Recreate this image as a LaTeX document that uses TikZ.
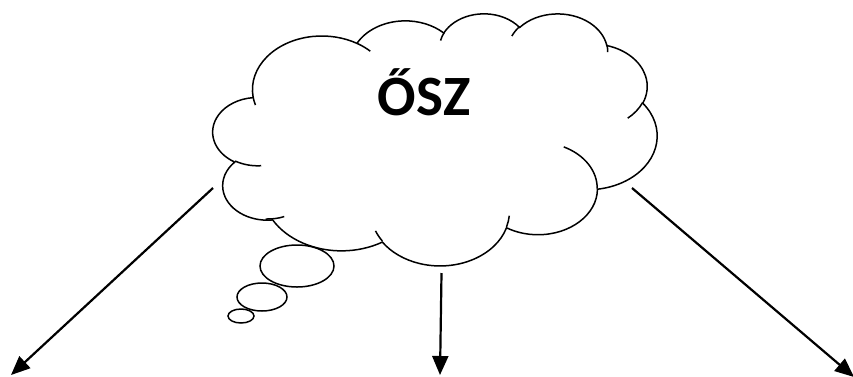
\documentclass[tikz,border=0pt]{standalone}
\usepackage{fontspec}
\setmainfont{Carlito}
\usetikzlibrary{arrows.meta}
\begin{document}
\begin{tikzpicture}[x=1pt, y=-1pt,
        cloudline/.style={line width=1.5pt},
        branch/.style={line width=2.2pt, -{Triangle[width=16pt, length=19pt]}}]
        \useasboundingbox (0,0) rectangle (853,376);

        % Nube (contorno)
        \begin{scope}[shift={(213,13)}, x=1.02778pt, y=-0.58333pt]
        \draw[cloudline] (39,143.70)
            arc[start angle=-187.746, end angle=-59.634, x radius=67.53, y radius=91.90]
            arc[start angle=-152.007, end angle=-45.437, x radius=53.33, y radius=72.67]
            arc[start angle=-153.495, end angle=-37.310, x radius=43.65, y radius=59.45]
            arc[start angle=-139.706, end angle=-10.211, x radius=48.57, y radius=65.95]
            arc[start angle=-74.767, end angle=23.206, x radius=53.33, y radius=72.73]
            arc[start angle=-37.516, end angle=81.862, x radius=67.75, y radius=92.20]
            arc[start angle=0.460, end angle=121.973, x radius=57.85, y radius=78.67]
            arc[start angle=16.842, end angle=146.230, x radius=67.52, y radius=92.15]
            arc[start angle=58.989, end angle=150.175, x radius=77.20, y radius=105.43]
            arc[start angle=-276.693, end angle=-136.916, x radius=43.60, y radius=59.18]
            arc[start angle=-239.637, end angle=-95.887, x radius=43.45, y radius=59.45]
            -- cycle;

        % Nube (arcos interiores)
        \draw[cloudline] (46.93,261.77) arc[start angle=85.547, end angle=120.363, x radius=43.45, y radius=59.45];
        \draw[cloudline] (69.28,348.99) arc[start angle=68.228, end angle=92.605, x radius=43.60, y radius=59.18];
        \draw[cloudline] (164.78,390.90) arc[start angle=146.230, end angle=158.474, x radius=67.52, y radius=92.15];
        \draw[cloudline] (288.27,347.51) arc[start angle=4.738, end angle=16.842, x radius=67.52, y radius=92.15];
        \draw[cloudline] (341.29,229.54) arc[start angle=-64.028, end angle=0.460, x radius=57.85, y radius=78.67];
        \draw[cloudline] (417.98,153.54) arc[start angle=23.206, end angle=49.639, x radius=53.33, y radius=72.73];
        \draw[cloudline] (383.24,54.26) arc[start angle=-10.211, end angle=0.821, x radius=48.57, y radius=65.95];
        \draw[cloudline] (290.78,39.52) arc[start angle=-156.277, end angle=-139.706, x radius=48.57, y radius=65.95];
        \draw[cloudline] (221.41,47.20) arc[start angle=-167.726, end angle=-153.495, x radius=43.65, y radius=59.45];
        \draw[cloudline] (140.00,51.92) arc[start angle=-59.634, end angle=-45.733, x radius=67.53, y radius=91.90];
        \draw[cloudline] (41.27,157.89) arc[start angle=163.196, end angle=172.254, x radius=67.53, y radius=91.90];
        \end{scope}

        % Burbujas del pensamiento
        \draw[cloudline] (297,266) ellipse[x radius=37, y radius=21];
        \draw[cloudline] (262,297) ellipse[x radius=25, y radius=14];
        \draw[cloudline] (241,316) ellipse[x radius=13, y radius=7];

        % Texto
        \node[font=\bfseries\fontsize{57}{64}\selectfont, anchor=base, inner sep=0pt] (osz) at (424,115) {ŐSZ};

        % Puntos de las flechas
        \coordinate (izqA) at (213,188);
        \coordinate (izqB) at (11,375);
        \coordinate (cenA) at (441.5,273);
        \coordinate (cenB) at (440,375);
        \coordinate (derA) at (632,188);
        \coordinate (derB) at (854,377);

        % Flechas
        \draw[branch] (izqA) -- (izqB);
        \draw[branch] (cenA) -- (cenB);
        \draw[branch] (derA) -- (derB);
    \end{tikzpicture}
\end{document}
